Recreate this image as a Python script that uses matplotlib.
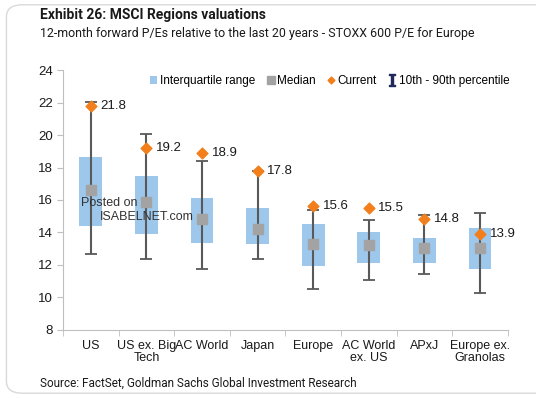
import numpy as np
import matplotlib.pyplot as plt
from matplotlib.patches import FancyBboxPatch
from matplotlib.lines import Line2D
from matplotlib.patches import Patch

plt.rcParams["mathtext.fontset"] = "dejavuserif"

# Daten
categories = ["US", "US ex. Big\nTech", "AC World", "Japan", "Europe",
              "AC World\nex. US", "APxJ", "Europe ex.\nGranolas"]
p10 = [12.7, 12.35, 11.75, 12.35, 10.5, 11.1, 11.45, 10.3]
p90 = [22.05, 20.05, 18.4, 17.8, 15.4, 14.75, 15.1, 15.2]
q25 = [14.4, 13.9, 13.35, 13.3, 11.95, 12.15, 12.1, 11.75]
q75 = [18.65, 17.5, 16.1, 15.5, 14.55, 14.0, 13.65, 14.3]
median = [16.6, 15.85, 14.8, 14.2, 13.3, 13.2, 13.05, 13.05]
current = [21.8, 19.2, 18.9, 17.8, 15.6, 15.5, 14.8, 13.9]

BLUE = "#9DC8EC"
GREY = "#A3A3A3"
ORANGE = "#F27F1B"
WHISK = "#595959"

fig = plt.figure(figsize=(5.36, 3.98), dpi=100)
fig.patch.set_facecolor("white")

# Rahmen
card = FancyBboxPatch((0.012, 0.012), 1.05, 0.976, boxstyle="round,pad=0,rounding_size=0.03",
                      transform=fig.transFigure, facecolor="white", edgecolor="#D9D9D9",
                      linewidth=1.0, zorder=-5)
fig.patches.append(card)

ax = fig.add_axes([0.1175, 0.171, 0.83, 0.653])
ax.set_zorder(2)
ax.patch.set_alpha(0)
x = np.arange(len(categories))

ax.bar(x, np.array(q75) - np.array(q25), bottom=q25, width=0.41, color=BLUE, zorder=1)
ax.errorbar(x, median, yerr=[np.array(median) - np.array(p10), np.array(p90) - np.array(median)],
            fmt="none", ecolor=WHISK, elinewidth=1.5, capsize=4, capthick=1.3, zorder=2)
ax.scatter(x, median, marker="s", s=45, color=GREY, zorder=3)
ax.scatter(x, current, marker="D", s=30, color=ORANGE, zorder=4)

for xi, v in zip(x, current):
    ax.text(xi + 0.17, v, f"{v:.1f}", va="center", ha="left", fontsize=9.5,
            family="Liberation Sans", color="#1A1A1A", zorder=5)

ax.set_xlim(-0.5, len(categories) - 0.5)
ax.set_ylim(8, 24)
ax.set_yticks(range(8, 25, 2))
ax.set_xticks(x)
ax.set_xticklabels(categories, fontsize=9, family="Liberation Sans", color="#1A1A1A",
                   linespacing=1.0)
ax.set_xticks(np.arange(-0.5, len(categories), 1), minor=True)
ax.tick_params(axis="x", which="major", length=0, pad=7)
ax.tick_params(axis="x", which="minor", length=4, color="#BFBFBF")
ax.tick_params(axis="y", length=4, color="#BFBFBF", labelsize=9.5, labelcolor="#1A1A1A")
for lbl in ax.get_yticklabels():
    lbl.set_family("Liberation Sans")
ax.spines[["top", "right"]].set_visible(False)
ax.spines[["left", "bottom"]].set_color("#BFBFBF")

# Legende
handles = [
    Patch(facecolor=BLUE, edgecolor="none"),
    Line2D([], [], marker="s", color=GREY, linestyle="none", markersize=6),
    Line2D([], [], marker="D", color=ORANGE, linestyle="none", markersize=3.5),
    Line2D([], [], marker="$\\mathbf{I}$", color="#1F2A5A", linestyle="none", markersize=8),
]
labels = ["Interquartile range", "Median", "Current", "10th - 90th percentile"]
leg = ax.legend(handles, labels, loc="upper center", bbox_to_anchor=(0.6, 1.02), ncol=4,
                frameon=False, handlelength=0.6, handletextpad=0.25,
                columnspacing=1.0, prop={"family": "Liberation Sans", "size": 8.5})

# Wasserzeichen
ax.text(-0.18, 15.8, "Posted on", fontsize=9, family="Liberation Sans", color="#333333",
        va="center", zorder=6)
ax.text(0.16, 14.95, "ISABELNET.com", fontsize=9, family="Liberation Sans", color="#333333",
        va="center", zorder=6)

# Titel
fig.text(0.075, 0.962, "Exhibit 26: MSCI Regions valuations", fontsize=10, fontweight="bold",
         family="Roboto", color="#1A1A1A", va="center", ha="left")
fig.text(0.075, 0.915, "12-month forward P/Es relative to the last 20 years - STOXX 600 P/E for Europe",
         fontsize=8.9, family="Roboto", color="#1A1A1A", va="center", ha="left")
fig.text(0.075, 0.037, "Source: FactSet, Goldman Sachs Global Investment Research",
         fontsize=8.5, family="Roboto", color="#1A1A1A", va="center", ha="left")

fig.savefig("out.png", dpi=100)
